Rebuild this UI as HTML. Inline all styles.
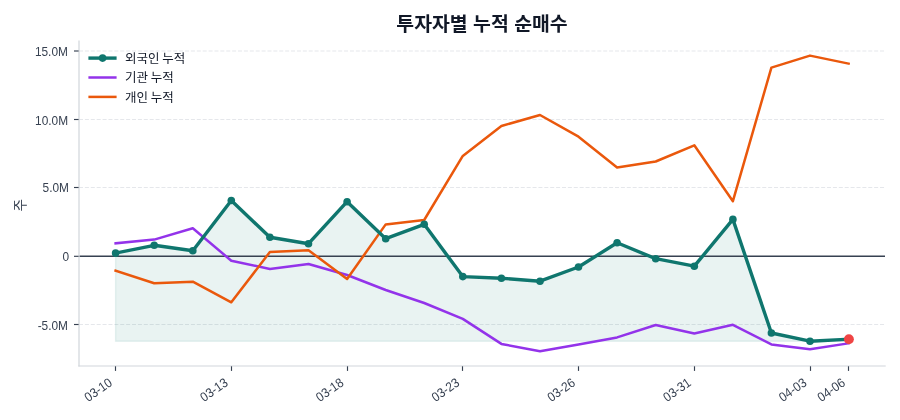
<!DOCTYPE html>
<html lang="ko"><head><meta charset="utf-8"><title>투자자별 누적 순매수</title>
<style>
html,body{margin:0;padding:0;background:#fff;}
body{width:900px;height:420px;overflow:hidden;}
svg{display:block;}
text{font-family:"Liberation Sans", "Noto Sans CJK KR", sans-serif;fill:#1f2937;}
.tick{font-size:12.2px;fill:#374151;}
.leg{font-size:12.5px;fill:#111827;word-spacing:-0.8px;}
</style></head><body>
<svg width="900" height="420" viewBox="0 0 900 420">
<rect width="900" height="420" fill="#ffffff"/>

<line x1="79.0" x2="885.0" y1="51.0" y2="51.0" stroke="#e5e7eb" stroke-width="1.1" stroke-dasharray="4 1.89"/>
<line x1="79.0" x2="885.0" y1="119.5" y2="119.5" stroke="#e5e7eb" stroke-width="1.1" stroke-dasharray="4 1.89"/>
<line x1="79.0" x2="885.0" y1="187.5" y2="187.5" stroke="#e5e7eb" stroke-width="1.1" stroke-dasharray="4 1.89"/>
<line x1="79.0" x2="885.0" y1="324.5" y2="324.5" stroke="#e5e7eb" stroke-width="1.1" stroke-dasharray="4 1.89"/>
<polygon points="115.6,341.2 115.6,253.1 154.2,245.3 192.8,250.7 231.3,200.5 269.9,237.3 308.5,243.7 347.1,201.7 385.7,238.7 424.2,224.3 462.8,276.6 501.4,278.2 540.0,281.2 578.5,267.0 617.1,242.8 655.7,258.7 694.3,266.2 732.9,219.4 771.4,333.0 810.0,341.2 848.6,339.2 848.6,341.2" fill="#0f766e" fill-opacity="0.09" stroke="#0f766e" stroke-opacity="0.09" stroke-width="1.39"/>
<line x1="79.2" x2="885.0" y1="256.3" y2="256.3" stroke="#374151" stroke-width="1.39"/>
<polyline points="115.6,243.3 154.2,239.6 192.8,228.3 231.3,260.7 269.9,269.0 308.5,264.0 347.1,275.0 385.7,290.0 424.2,303.0 462.8,318.9 501.4,343.9 540.0,351.2 578.5,344.4 617.1,337.4 655.7,325.0 694.3,333.5 732.9,324.8 771.4,344.4 810.0,349.2 848.6,343.3" fill="none" stroke="#9333ea" stroke-width="2.5" stroke-linejoin="round" stroke-linecap="square"/>
<polyline points="115.6,270.7 154.2,283.3 192.8,281.7 231.3,302.3 269.9,252.0 308.5,250.2 347.1,279.0 385.7,224.4 424.2,220.0 462.8,155.9 501.4,126.0 540.0,115.0 578.5,136.7 617.1,167.6 655.7,161.5 694.3,145.3 732.9,201.2 771.4,67.6 810.0,55.6 848.6,63.6" fill="none" stroke="#ea580c" stroke-width="2.5" stroke-linejoin="round" stroke-linecap="square"/>
<polyline points="115.6,253.1 154.2,245.3 192.8,250.7 231.3,200.5 269.9,237.3 308.5,243.7 347.1,201.7 385.7,238.7 424.2,224.3 462.8,276.6 501.4,278.2 540.0,281.2 578.5,267.0 617.1,242.8 655.7,258.7 694.3,266.2 732.9,219.4 771.4,333.0 810.0,341.2 848.6,339.2" fill="none" stroke="#0f766e" stroke-width="3.4" stroke-linejoin="round" stroke-linecap="square"/>
<circle cx="115.6" cy="253.1" r="3.8" fill="#0f766e"/>
<circle cx="154.2" cy="245.3" r="3.8" fill="#0f766e"/>
<circle cx="192.8" cy="250.7" r="3.8" fill="#0f766e"/>
<circle cx="231.3" cy="200.5" r="3.8" fill="#0f766e"/>
<circle cx="269.9" cy="237.3" r="3.8" fill="#0f766e"/>
<circle cx="308.5" cy="243.7" r="3.8" fill="#0f766e"/>
<circle cx="347.1" cy="201.7" r="3.8" fill="#0f766e"/>
<circle cx="385.7" cy="238.7" r="3.8" fill="#0f766e"/>
<circle cx="424.2" cy="224.3" r="3.8" fill="#0f766e"/>
<circle cx="462.8" cy="276.6" r="3.8" fill="#0f766e"/>
<circle cx="501.4" cy="278.2" r="3.8" fill="#0f766e"/>
<circle cx="540.0" cy="281.2" r="3.8" fill="#0f766e"/>
<circle cx="578.5" cy="267.0" r="3.8" fill="#0f766e"/>
<circle cx="617.1" cy="242.8" r="3.8" fill="#0f766e"/>
<circle cx="655.7" cy="258.7" r="3.8" fill="#0f766e"/>
<circle cx="694.3" cy="266.2" r="3.8" fill="#0f766e"/>
<circle cx="732.9" cy="219.4" r="3.8" fill="#0f766e"/>
<circle cx="771.4" cy="333.0" r="3.8" fill="#0f766e"/>
<circle cx="810.0" cy="341.2" r="3.8" fill="#0f766e"/>
<circle cx="848.6" cy="339.2" r="3.8" fill="#0f766e"/>
<circle cx="848.9" cy="339.2" r="4.95" fill="#ef4444"/>
<line x1="79" x2="79" y1="40.5" y2="366.5" stroke="#d1d5db" stroke-width="1.2"/>
<line x1="78.4" x2="885.7" y1="366" y2="366" stroke="#d1d5db" stroke-width="1.2"/>
<line x1="74" x2="78.6" y1="51.0" y2="51.0" stroke="#374151" stroke-width="1.15"/>
<text class="tick" transform="translate(67.9,55.7) scale(0.975,1.07)" text-anchor="end">15.0M</text>
<line x1="74" x2="78.6" y1="119.5" y2="119.5" stroke="#374151" stroke-width="1.15"/>
<text class="tick" transform="translate(68.1,124.8) scale(0.975,1.07)" text-anchor="end">10.0M</text>
<line x1="74" x2="78.6" y1="187.5" y2="187.5" stroke="#374151" stroke-width="1.15"/>
<text class="tick" transform="translate(69.0,192.3) scale(0.975,1.07)" text-anchor="end">5.0M</text>
<line x1="74" x2="78.6" y1="256.3" y2="256.3" stroke="#374151" stroke-width="1.15"/>
<text class="tick" transform="translate(69.0,261.2) scale(0.975,1.07)" text-anchor="end">0</text>
<line x1="74" x2="78.6" y1="324.5" y2="324.5" stroke="#374151" stroke-width="1.15"/>
<text class="tick" transform="translate(68.0,329.5) scale(0.975,1.07)" text-anchor="end">-5.0M</text>
<line x1="115.5" x2="115.5" y1="366.3" y2="370.9" stroke="#374151" stroke-width="1.15"/>
<text class="tick" transform="translate(107.9,377.2) rotate(-35) scale(0.975,1.07)" text-anchor="end" dominant-baseline="hanging">03-10</text>
<line x1="231.5" x2="231.5" y1="366.3" y2="370.9" stroke="#374151" stroke-width="1.15"/>
<text class="tick" transform="translate(223.6,377.2) rotate(-35) scale(0.975,1.07)" text-anchor="end" dominant-baseline="hanging">03-13</text>
<line x1="347.5" x2="347.5" y1="366.3" y2="370.9" stroke="#374151" stroke-width="1.15"/>
<text class="tick" transform="translate(339.4,377.2) rotate(-35) scale(0.975,1.07)" text-anchor="end" dominant-baseline="hanging">03-18</text>
<line x1="462.5" x2="462.5" y1="366.3" y2="370.9" stroke="#374151" stroke-width="1.15"/>
<text class="tick" transform="translate(455.1,377.2) rotate(-35) scale(0.975,1.07)" text-anchor="end" dominant-baseline="hanging">03-23</text>
<line x1="578.5" x2="578.5" y1="366.3" y2="370.9" stroke="#374151" stroke-width="1.15"/>
<text class="tick" transform="translate(570.8,377.2) rotate(-35) scale(0.975,1.07)" text-anchor="end" dominant-baseline="hanging">03-26</text>
<line x1="694.5" x2="694.5" y1="366.3" y2="370.9" stroke="#374151" stroke-width="1.15"/>
<text class="tick" transform="translate(686.6,377.2) rotate(-35) scale(0.975,1.07)" text-anchor="end" dominant-baseline="hanging">03-31</text>
<line x1="810.5" x2="810.5" y1="366.3" y2="370.9" stroke="#374151" stroke-width="1.15"/>
<text class="tick" transform="translate(802.3,377.2) rotate(-35) scale(0.975,1.07)" text-anchor="end" dominant-baseline="hanging">04-03</text>
<line x1="848.5" x2="848.5" y1="366.3" y2="370.9" stroke="#374151" stroke-width="1.15"/>
<text class="tick" transform="translate(840.9,377.2) rotate(-35) scale(0.975,1.07)" text-anchor="end" dominant-baseline="hanging">04-06</text>
<text transform="translate(24.6,205.3) rotate(-90)" text-anchor="middle" style="font-size:13.7px;fill:#374151">주</text>
<text x="482" y="30.8" text-anchor="middle" style="font-size:19.4px;font-weight:bold;fill:#111827">투자자별 누적 순매수</text>
<line x1="88.4" x2="116.6" y1="58.1" y2="58.1" stroke="#0f766e" stroke-width="3.4"/>
<circle cx="102.6" cy="58.1" r="3.8" fill="#0f766e"/>
<text class="leg" x="125" y="62.6">외국인 누적</text>
<line x1="88.4" x2="116.6" y1="77.5" y2="77.5" stroke="#9333ea" stroke-width="2.5"/>
<text class="leg" x="125" y="82.0">기관 누적</text>
<line x1="88.4" x2="116.6" y1="96.9" y2="96.9" stroke="#ea580c" stroke-width="2.5"/>
<text class="leg" x="125" y="101.5">개인 누적</text>
</svg></body></html>
